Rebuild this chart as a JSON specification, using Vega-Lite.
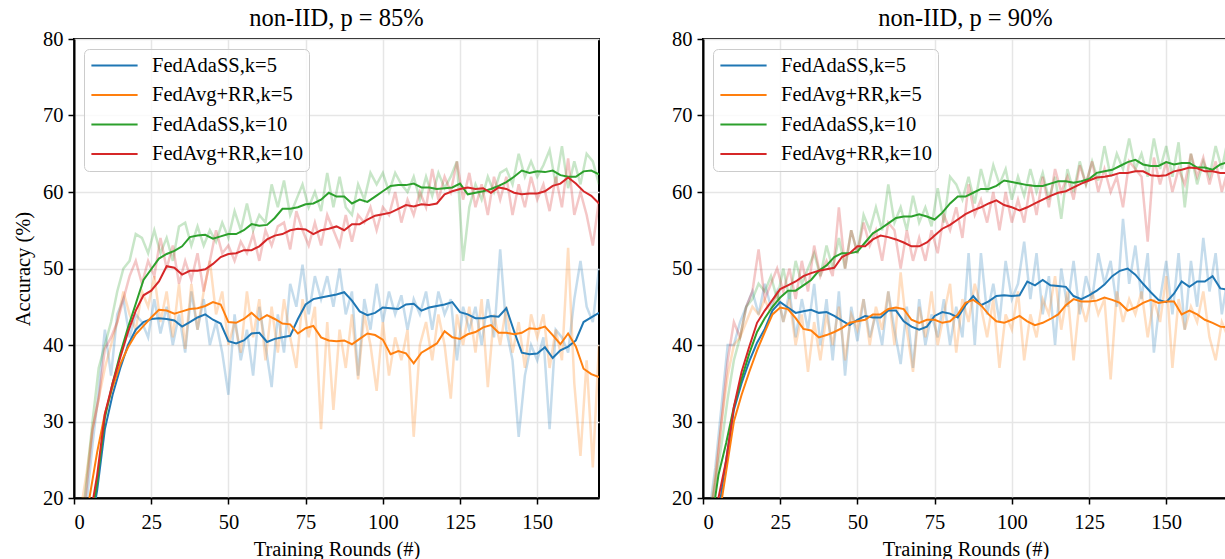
{
"$schema":"https://vega.github.io/schema/vega-lite/v6.json",
"background":"white",
"padding":{"left":12,"top":4,"right":0,"bottom":0},
"datasets":{
"Lraw":[
{"r":0,"a":8,"b":10,"c":9,"d":9},{"r":2,"a":13,"b":18,"c":14,"d":15},{"r":4,"a":19,"b":23,"c":22,"d":21},{"r":6,"a":27,"b":29,"c":30,"d":29},{"r":8,"a":34,"b":33,"c":37,"d":33},{"r":10,"a":42,"b":37,"c":40,"d":39.5},{"r":12,"a":36,"b":40,"c":43,"d":41},{"r":14,"a":44,"b":43,"c":47,"d":43},{"r":16,"a":46,"b":47,"c":50,"d":46},{"r":18,"a":41,"b":44,"c":51,"d":49},{"r":20,"a":44,"b":42,"c":54.5,"d":51},{"r":22,"a":43,"b":47,"c":54,"d":48},{"r":24,"a":41,"b":45,"c":52,"d":51},{"r":26,"a":46,"b":49,"c":55,"d":49},{"r":28,"a":41.5,"b":43,"c":52,"d":54},{"r":30,"a":45,"b":47,"c":54,"d":50},{"r":32,"a":40,"b":41,"c":51,"d":53},{"r":34,"a":44,"b":48,"c":55.5,"d":48},{"r":36,"a":39,"b":39.5,"c":56,"d":51},{"r":38,"a":47,"b":48,"c":53,"d":48.5},{"r":40,"a":42,"b":42,"c":55.5,"d":52},{"r":42,"a":46,"b":47,"c":53,"d":47},{"r":44,"a":40,"b":51,"c":55,"d":51},{"r":46,"a":43,"b":44,"c":53.5,"d":55},{"r":48,"a":39,"b":47,"c":56,"d":52},{"r":50,"a":33.5,"b":40,"c":54,"d":53},{"r":52,"a":44,"b":43,"c":57.5,"d":51},{"r":54,"a":38,"b":39,"c":55,"d":53.5},{"r":56,"a":42,"b":47,"c":58.5,"d":52},{"r":58,"a":36,"b":41,"c":55,"d":54.5},{"r":60,"a":45,"b":46,"c":57,"d":51},{"r":62,"a":40,"b":38,"c":56,"d":55},{"r":64,"a":34.5,"b":45,"c":61,"d":53},{"r":66,"a":44,"b":39,"c":58,"d":55.5},{"r":68,"a":39,"b":46,"c":61.5,"d":56},{"r":70,"a":48,"b":41,"c":57,"d":52.5},{"r":72,"a":45,"b":37,"c":59,"d":57.5},{"r":74,"a":50.5,"b":46,"c":61,"d":55},{"r":76,"a":44,"b":41,"c":58,"d":53},{"r":78,"a":49,"b":45,"c":60,"d":56},{"r":80,"a":46,"b":29,"c":57.5,"d":53},{"r":82,"a":49,"b":43,"c":62.5,"d":57},{"r":84,"a":45,"b":31.5,"c":58,"d":55},{"r":86,"a":50,"b":42,"c":62,"d":53},{"r":88,"a":44,"b":37,"c":58,"d":57},{"r":90,"a":47,"b":44,"c":57,"d":53.5},{"r":92,"a":36,"b":35.5,"c":61,"d":57},{"r":94,"a":46,"b":44,"c":59,"d":56},{"r":96,"a":42,"b":40,"c":62.5,"d":58},{"r":98,"a":48,"b":34,"c":61,"d":55},{"r":100,"a":43,"b":43,"c":62.5,"d":58},{"r":102,"a":47,"b":36,"c":60,"d":57},{"r":104,"a":44,"b":41,"c":62.5,"d":60},{"r":106,"a":46.5,"b":38,"c":61,"d":56},{"r":108,"a":42,"b":42,"c":60,"d":59},{"r":110,"a":46,"b":28,"c":62,"d":57},{"r":112,"a":44,"b":40,"c":59,"d":60},{"r":114,"a":47,"b":43,"c":62,"d":58},{"r":116,"a":42,"b":38,"c":59.5,"d":63},{"r":118,"a":47,"b":44,"c":62.5,"d":59},{"r":120,"a":44,"b":40,"c":60.5,"d":62},{"r":122,"a":46,"b":33,"c":62,"d":60},{"r":124,"a":38,"b":44,"c":64,"d":64},{"r":126,"a":45,"b":40,"c":51,"d":59},{"r":128,"a":42,"b":45,"c":58,"d":62.5},{"r":130,"a":45,"b":39,"c":61,"d":58},{"r":132,"a":40,"b":46,"c":59,"d":61},{"r":134,"a":46,"b":34.5,"c":62,"d":57},{"r":136,"a":41,"b":44,"c":60,"d":62},{"r":138,"a":52.5,"b":40,"c":62.5,"d":59},{"r":140,"a":42,"b":45,"c":63,"d":62},{"r":142,"a":38,"b":39,"c":61,"d":57},{"r":144,"a":28,"b":43,"c":65,"d":61},{"r":146,"a":36,"b":37,"c":62,"d":58},{"r":148,"a":40,"b":44,"c":64,"d":62},{"r":150,"a":38,"b":41,"c":62,"d":59},{"r":152,"a":41,"b":44,"c":63.5,"d":61},{"r":154,"a":29,"b":37,"c":65.5,"d":57.5},{"r":156,"a":42,"b":42,"c":61,"d":62},{"r":158,"a":41,"b":38,"c":66,"d":58},{"r":160,"a":39,"b":52.7,"c":60.5,"d":64.4},{"r":162,"a":46,"b":35,"c":64,"d":57},{"r":164,"a":51,"b":25.5,"c":61,"d":60},{"r":166,"a":45,"b":38,"c":65,"d":57},{"r":168,"a":43,"b":24,"c":64,"d":53},{"r":170,"a":50,"b":40,"c":61,"d":59}
],
"Lsm":[
{"r":0,"a":8,"b":10,"c":9,"d":9},{"r":2.5,"a":11,"b":15,"c":12,"d":13},{"r":5,"a":15,"b":20,"c":16,"d":17},{"r":7.5,"a":21,"b":26,"c":22,"d":23},{"r":10,"a":29,"b":31,"c":30.5,"d":31},{"r":12.5,"a":33.5,"b":34.5,"c":35,"d":35},{"r":15,"a":37,"b":37.5,"c":38.9,"d":38.4},{"r":17.5,"a":40,"b":39.7,"c":42.3,"d":41.7},{"r":20,"a":42,"b":41.4,"c":45.4,"d":44.5},{"r":22.5,"a":43,"b":42.5,"c":48.5,"d":46.5},{"r":25,"a":43.4,"b":43.6,"c":49.9,"d":47.1},{"r":27.5,"a":43.5,"b":44.6,"c":51.3,"d":48.3},{"r":30,"a":43.4,"b":44.5,"c":51.9,"d":50.3},{"r":32.5,"a":43.2,"b":44.1,"c":52.3,"d":50.1},{"r":35,"a":42.4,"b":44.4,"c":52.9,"d":49.2},{"r":37.5,"a":43,"b":44.7,"c":54.1,"d":49.7},{"r":40,"a":43.6,"b":44.8,"c":54.3,"d":49.7},{"r":42.5,"a":44,"b":45.1,"c":54.4,"d":49.9},{"r":45,"a":43.3,"b":45.6,"c":53.9,"d":50.6},{"r":47.5,"a":42.8,"b":45.3,"c":54.2,"d":51.5},{"r":50,"a":40.5,"b":43,"c":54.5,"d":51.9},{"r":52.5,"a":40.2,"b":42.9,"c":54.5,"d":52},{"r":55,"a":40.6,"b":43.4,"c":55,"d":52.4},{"r":57.5,"a":41.5,"b":44.2,"c":55.8,"d":52.4},{"r":60,"a":41.6,"b":43.3,"c":55.6,"d":52.9},{"r":62.5,"a":40.4,"b":43.9,"c":55.7,"d":53.8},{"r":65,"a":40.8,"b":43.4,"c":56.6,"d":54.3},{"r":67.5,"a":41,"b":42.8,"c":57.8,"d":54.5},{"r":70,"a":41.2,"b":42.7,"c":57.8,"d":55},{"r":72.5,"a":43.4,"b":41.5,"c":58,"d":55.2},{"r":75,"a":45.3,"b":42.2,"c":58.4,"d":55.1},{"r":77.5,"a":46,"b":42.5,"c":58.5,"d":54.5},{"r":80,"a":46.2,"b":41,"c":59,"d":55},{"r":82.5,"a":46.4,"b":40.6,"c":59.9,"d":55.2},{"r":85,"a":46.6,"b":40.5,"c":59.4,"d":55.5},{"r":87.5,"a":46.9,"b":40.6,"c":59.4,"d":55},{"r":90,"a":45.8,"b":40.1,"c":58.5,"d":55.8},{"r":92.5,"a":44.4,"b":40.8,"c":59,"d":55.8},{"r":95,"a":43.9,"b":41.5,"c":58.7,"d":56.4},{"r":97.5,"a":44.2,"b":41.3,"c":59.4,"d":56.9},{"r":100,"a":44.9,"b":40.7,"c":60.1,"d":57.1},{"r":102.5,"a":44.8,"b":38.8,"c":60.8,"d":57.3},{"r":105,"a":44.7,"b":39.2,"c":60.9,"d":57.8},{"r":107.5,"a":45.3,"b":38.9,"c":60.9,"d":58.3},{"r":110,"a":45.4,"b":37.6,"c":61.1,"d":58.1},{"r":112.5,"a":44.5,"b":39,"c":60.6,"d":58.4},{"r":115,"a":44.9,"b":39.6,"c":60.6,"d":58.3},{"r":117.5,"a":45.1,"b":40.2,"c":60.4,"d":58.5},{"r":120,"a":45.3,"b":41.8,"c":60.5,"d":59.7},{"r":122.5,"a":45.6,"b":41,"c":60.6,"d":60.1},{"r":125,"a":44.3,"b":40.8,"c":61.1,"d":60.4},{"r":127.5,"a":44,"b":41.4,"c":59.7,"d":60.6},{"r":130,"a":43.5,"b":41.7,"c":59.9,"d":60.4},{"r":132.5,"a":43.5,"b":42.3,"c":60.1,"d":60.5},{"r":135,"a":43.8,"b":42.6,"c":60.4,"d":59.9},{"r":137.5,"a":43.7,"b":41.6,"c":60.8,"d":60.6},{"r":140,"a":44.8,"b":41.6,"c":61.3,"d":60.4},{"r":142.5,"a":41.8,"b":41.4,"c":62,"d":59.9},{"r":145,"a":39,"b":41.6,"c":62.8,"d":59.7},{"r":147.5,"a":38.8,"b":42.2,"c":62.5,"d":59.8},{"r":150,"a":38.9,"b":42.1,"c":62.7,"d":59.8},{"r":152.5,"a":39.7,"b":42.4,"c":62.6,"d":60.1},{"r":155,"a":38.3,"b":41.3,"c":62.8,"d":60.8},{"r":157.5,"a":39.3,"b":40.1,"c":62.2,"d":61.1},{"r":160,"a":39.8,"b":41.5,"c":62,"d":61.9},{"r":162.5,"a":40.6,"b":39.8,"c":62,"d":61.1},{"r":165,"a":43,"b":36.9,"c":62.7,"d":60.1},{"r":167.5,"a":43.6,"b":36.2,"c":62.8,"d":59.5},{"r":170,"a":44.2,"b":35.8,"c":62.3,"d":58.5}
],
"Rraw":[
{"r":0,"a":12,"b":11,"c":12,"d":11},{"r":2,"a":18,"b":17,"c":17,"d":16},{"r":4,"a":24,"b":23,"c":22,"d":22},{"r":6,"a":32,"b":30,"c":27,"d":30},{"r":8,"a":40,"b":36,"c":33,"d":38},{"r":10,"a":40,"b":40,"c":38,"d":43},{"r":12,"a":43,"b":41,"c":41,"d":41},{"r":14,"a":45,"b":43,"c":45,"d":45},{"r":16,"a":47,"b":45,"c":46,"d":47},{"r":18,"a":44,"b":44,"c":48,"d":52.5},{"r":20,"a":48,"b":46,"c":47,"d":46},{"r":22,"a":45,"b":44,"c":49,"d":48},{"r":24,"a":47,"b":47,"c":46,"d":50},{"r":26,"a":43,"b":43,"c":50,"d":47},{"r":28,"a":47,"b":46,"c":46,"d":50},{"r":30,"a":41,"b":40,"c":51,"d":46},{"r":32,"a":46,"b":44,"c":48,"d":51},{"r":34,"a":42,"b":36.5,"c":50,"d":47},{"r":36,"a":48,"b":43,"c":52,"d":53},{"r":38,"a":40,"b":38,"c":49,"d":49},{"r":40,"a":46,"b":44,"c":53,"d":51},{"r":42,"a":38,"b":40,"c":50,"d":49},{"r":44,"a":47,"b":45,"c":54,"d":58},{"r":46,"a":36,"b":38,"c":50,"d":50},{"r":48,"a":45,"b":44,"c":55,"d":55},{"r":50,"a":40.5,"b":42,"c":52,"d":52},{"r":52,"a":46,"b":46,"c":57,"d":56},{"r":54,"a":41,"b":40,"c":55,"d":53},{"r":56,"a":44,"b":45,"c":58,"d":55},{"r":58,"a":40,"b":42,"c":55,"d":51},{"r":60,"a":47,"b":47,"c":61,"d":56},{"r":62,"a":42,"b":40,"c":56,"d":55},{"r":64,"a":37.5,"b":49.5,"c":58,"d":50},{"r":66,"a":45,"b":42,"c":55,"d":55},{"r":68,"a":37,"b":36.5,"c":59.5,"d":51},{"r":70,"a":46,"b":45,"c":56,"d":54},{"r":72,"a":40,"b":41,"c":58,"d":51},{"r":74,"a":44,"b":47,"c":55.5,"d":55},{"r":76,"a":41,"b":40,"c":60.5,"d":52},{"r":78,"a":46,"b":44,"c":56,"d":57},{"r":80,"a":40,"b":48,"c":62,"d":55},{"r":82,"a":45,"b":39,"c":61,"d":58},{"r":84,"a":41,"b":46,"c":59,"d":54},{"r":86,"a":52,"b":43,"c":62,"d":61},{"r":88,"a":40,"b":48,"c":58.5,"d":57},{"r":90,"a":52,"b":45,"c":63,"d":59},{"r":92,"a":44,"b":41,"c":60,"d":56},{"r":94,"a":48,"b":46,"c":63.5,"d":60},{"r":96,"a":43,"b":37,"c":61,"d":55},{"r":98,"a":51,"b":44,"c":63,"d":60},{"r":100,"a":46,"b":42,"c":59,"d":56},{"r":102,"a":48,"b":47,"c":62,"d":59},{"r":104,"a":53.5,"b":38,"c":59.5,"d":56},{"r":106,"a":46,"b":44,"c":63,"d":61},{"r":108,"a":52,"b":41,"c":60,"d":57},{"r":110,"a":44,"b":46,"c":62.5,"d":62},{"r":112,"a":49,"b":44,"c":59,"d":58},{"r":114,"a":40,"b":49,"c":62,"d":63},{"r":116,"a":50,"b":42,"c":56.5,"d":60},{"r":118,"a":45,"b":47,"c":63,"d":62},{"r":120,"a":51,"b":38,"c":60,"d":59},{"r":122,"a":44,"b":46,"c":64,"d":63.5},{"r":124,"a":49,"b":43,"c":61,"d":61},{"r":126,"a":46,"b":47,"c":64,"d":64},{"r":128,"a":52,"b":44,"c":61.5,"d":60},{"r":130,"a":48,"b":46,"c":66,"d":63},{"r":132,"a":51,"b":35.5,"c":62,"d":60},{"r":134,"a":45,"b":47,"c":65,"d":62},{"r":136,"a":56.5,"b":43,"c":63,"d":58},{"r":138,"a":48,"b":46,"c":67,"d":64},{"r":140,"a":53,"b":44,"c":63,"d":63},{"r":142,"a":46,"b":47,"c":65,"d":62},{"r":144,"a":52,"b":41,"c":62,"d":53.5},{"r":146,"a":39,"b":46,"c":67,"d":64.5},{"r":148,"a":46,"b":43,"c":63,"d":61},{"r":150,"a":51,"b":49,"c":66,"d":64},{"r":152,"a":44,"b":37,"c":62,"d":60},{"r":154,"a":52,"b":46,"c":66.5,"d":63},{"r":156,"a":42,"b":42,"c":58,"d":61},{"r":158,"a":51,"b":45,"c":65,"d":65},{"r":160,"a":45,"b":43,"c":61,"d":62},{"r":162,"a":54,"b":47,"c":64,"d":64.5},{"r":164,"a":47,"b":41,"c":62,"d":61},{"r":166,"a":52,"b":38,"c":66,"d":64},{"r":168,"a":44,"b":43,"c":63,"d":60},{"r":170,"a":49,"b":41,"c":67,"d":63}
],
"Rsm":[
{"r":0,"a":9,"b":9,"c":12,"d":10},{"r":2.5,"a":13,"b":12,"c":16,"d":14},{"r":5,"a":18,"b":17,"c":23,"d":20},{"r":7.5,"a":25,"b":23.5,"c":27.2,"d":24.9},{"r":10,"a":31.5,"b":30,"c":31.9,"d":31.9},{"r":12.5,"a":35,"b":33.5,"c":35.6,"d":36.5},{"r":15,"a":37.9,"b":36.5,"c":38.9,"d":39.8},{"r":17.5,"a":40.3,"b":39.3,"c":41.7,"d":42.9},{"r":20,"a":42.1,"b":41.7,"c":43.5,"d":44.5},{"r":22.5,"a":44.5,"b":44,"c":45,"d":45.9},{"r":25,"a":45.6,"b":44.9,"c":46.2,"d":47.3},{"r":27.5,"a":44.9,"b":44.7,"c":47.1,"d":47.8},{"r":30,"a":44.2,"b":43.5,"c":47.1,"d":48.3},{"r":32.5,"a":44.4,"b":42.1,"c":47.8,"d":49},{"r":35,"a":44.6,"b":41.9,"c":48.5,"d":49.4},{"r":37.5,"a":44.2,"b":41,"c":49.7,"d":49.7},{"r":40,"a":44.3,"b":41.3,"c":50.4,"d":49.9},{"r":42.5,"a":43.8,"b":41.7,"c":51.5,"d":50.1},{"r":45,"a":43.2,"b":42.2,"c":52,"d":51.5},{"r":47.5,"a":42.6,"b":42.9,"c":52,"d":52},{"r":50,"a":43.3,"b":43.1,"c":52.2,"d":52.9},{"r":52.5,"a":43.8,"b":43.3,"c":53.4,"d":52.9},{"r":55,"a":43.6,"b":44,"c":54.6,"d":53.8},{"r":57.5,"a":43.6,"b":44,"c":55.2,"d":54.3},{"r":60,"a":44.5,"b":44.7,"c":55.9,"d":54.1},{"r":62.5,"a":44.5,"b":44.9,"c":56.6,"d":53.8},{"r":65,"a":43.1,"b":44.7,"c":56.8,"d":53.4},{"r":67.5,"a":42.4,"b":43.3,"c":56.8,"d":52.9},{"r":70,"a":42,"b":42.9,"c":57.1,"d":52.9},{"r":72.5,"a":42.4,"b":43.3,"c":56.8,"d":53.4},{"r":75,"a":43.8,"b":43.3,"c":56.4,"d":54.3},{"r":77.5,"a":44.3,"b":42.9,"c":57.3,"d":55.2},{"r":80,"a":44.1,"b":43.1,"c":58.5,"d":55.7},{"r":82.5,"a":43.6,"b":44,"c":59.4,"d":56.4},{"r":85,"a":45.2,"b":45.5,"c":59.4,"d":57.1},{"r":87.5,"a":46.4,"b":45.9,"c":59.9,"d":57.6},{"r":90,"a":45.2,"b":45.2,"c":60.4,"d":58},{"r":92.5,"a":45.7,"b":44,"c":60.4,"d":58.5},{"r":95,"a":46.4,"b":43.1,"c":60.8,"d":58.9},{"r":97.5,"a":46.5,"b":42.9,"c":61.5,"d":58.3},{"r":100,"a":46.4,"b":43.3,"c":61.3,"d":58},{"r":102.5,"a":46.5,"b":43.8,"c":61.1,"d":57.6},{"r":105,"a":48.3,"b":43.1,"c":60.9,"d":58},{"r":107.5,"a":47.8,"b":42.6,"c":60.8,"d":58.5},{"r":110,"a":48.5,"b":42.9,"c":60.8,"d":59},{"r":112.5,"a":47.8,"b":43.4,"c":61.1,"d":59.5},{"r":115,"a":47.7,"b":44,"c":61.4,"d":59.9},{"r":117.5,"a":47.6,"b":45.2,"c":61.4,"d":60.1},{"r":120,"a":46.4,"b":46,"c":61.2,"d":60.6},{"r":122.5,"a":46,"b":45.7,"c":61.4,"d":61.1},{"r":125,"a":46.5,"b":45.7,"c":61.7,"d":61.5},{"r":127.5,"a":47.1,"b":45.8,"c":62.5,"d":61.9},{"r":130,"a":47.9,"b":46.2,"c":62.7,"d":62},{"r":132.5,"a":49,"b":45.9,"c":62.9,"d":62.2},{"r":135,"a":49.7,"b":45.5,"c":63.4,"d":62.5},{"r":137.5,"a":50,"b":44.5,"c":63.9,"d":62.5},{"r":140,"a":49.2,"b":44.9,"c":64.2,"d":62.7},{"r":142.5,"a":48,"b":45.5,"c":63.6,"d":62.7},{"r":145,"a":46.9,"b":45.9,"c":63.4,"d":62.2},{"r":147.5,"a":45.9,"b":45.5,"c":63.4,"d":62.1},{"r":150,"a":45.6,"b":45.7,"c":63.9,"d":62.2},{"r":152.5,"a":46.7,"b":45.7,"c":63.6,"d":62.7},{"r":155,"a":48.3,"b":44,"c":63.8,"d":62.9},{"r":157.5,"a":47.6,"b":44.5,"c":63.8,"d":63.2},{"r":160,"a":48.3,"b":44,"c":63.2,"d":63.1},{"r":162.5,"a":48.3,"b":43.3,"c":63.2,"d":62.7},{"r":165,"a":49,"b":42.9,"c":62.9,"d":62.7},{"r":167.5,"a":47.4,"b":42.4,"c":63.6,"d":62.5},{"r":170,"a":47.2,"b":42.3,"c":63.9,"d":62.5}
]
},
"hconcat":[
{"width":525,"height":459,"title":{"text":"non-IID, p = 85%"},
"layer":[
{"data":{"name":"Lraw"},"transform":[{"fold":["a","b","c","d"],"as":["s","v"]}],
"mark":{"type":"line","clip":true,"strokeWidth":2.5,"opacity":0.26},
"encoding":{"x":{"field":"r","type":"quantitative","scale":{"domain":[0,170],"nice":false,"zero":false},"axis":{"values":[0,25,50,75,100,125,150],"title":"Training Rounds (#)"}},
"y":{"field":"v","type":"quantitative","scale":{"domain":[20,80],"nice":false,"zero":false},"axis":{"values":[20,30,40,50,60,70,80],"title":"Accuracy (%)"}},
"color":{"field":"s","type":"nominal","scale":{"domain":["a","b","c","d"],"range":["#1f77b4","#ff7f0e","#2ca02c","#d62728"]},"legend":{"title":null,"orient":"top-left","offset":10,"labelExpr":"datum.label == 'a' ? 'FedAdaSS,k=5' : datum.label == 'b' ? 'FedAvg+RR,k=5' : datum.label == 'c' ? 'FedAdaSS,k=10' : 'FedAvg+RR,k=10'"}}}},
{"data":{"name":"Lsm"},"transform":[{"fold":["a","b","c","d"],"as":["s","v"]}],
"mark":{"type":"line","clip":true,"strokeWidth":2},
"encoding":{"x":{"field":"r","type":"quantitative"},"y":{"field":"v","type":"quantitative"},"color":{"field":"s","type":"nominal"}}}
]},
{"width":525,"height":459,"title":{"text":"non-IID, p = 90%"},
"layer":[
{"data":{"name":"Rraw"},"transform":[{"fold":["a","b","c","d"],"as":["s","v"]}],
"mark":{"type":"line","clip":true,"strokeWidth":2.5,"opacity":0.26},
"encoding":{"x":{"field":"r","type":"quantitative","scale":{"domain":[0,170],"nice":false,"zero":false},"axis":{"values":[0,25,50,75,100,125,150],"title":"Training Rounds (#)"}},
"y":{"field":"v","type":"quantitative","scale":{"domain":[20,80],"nice":false,"zero":false},"axis":{"values":[20,30,40,50,60,70,80],"title":null}},
"color":{"field":"s","type":"nominal","scale":{"domain":["a","b","c","d"],"range":["#1f77b4","#ff7f0e","#2ca02c","#d62728"]},"legend":{"title":null,"orient":"top-left","offset":10,"labelExpr":"datum.label == 'a' ? 'FedAdaSS,k=5' : datum.label == 'b' ? 'FedAvg+RR,k=5' : datum.label == 'c' ? 'FedAdaSS,k=10' : 'FedAvg+RR,k=10'"}}}},
{"data":{"name":"Rsm"},"transform":[{"fold":["a","b","c","d"],"as":["s","v"]}],
"mark":{"type":"line","clip":true,"strokeWidth":2},
"encoding":{"x":{"field":"r","type":"quantitative"},"y":{"field":"v","type":"quantitative"},"color":{"field":"s","type":"nominal"}}}
]}
],
"spacing":70,
"resolve":{"scale":{"color":"independent"},"legend":{"color":"independent"}},
"config":{
"view":{"stroke":"black","strokeWidth":2},
"title":{"font":"Liberation Serif","fontSize":24.5,"fontWeight":"normal","color":"black","offset":-2},
"axis":{"labelFont":"Liberation Serif","labelFontSize":20.5,"titleFont":"Liberation Serif","titleFontSize":20.5,"titleFontWeight":"normal","labelColor":"black","titleColor":"black","tickColor":"black","tickSize":6,"tickWidth":1.5,"domainColor":"black","domainWidth":2,"gridColor":"#e6e6e6","gridWidth":1.5},
"axisX":{"labelPadding":8,"titlePadding":7},
"axisY":{"labelPadding":5,"titlePadding":9},
"legend":{"labelFont":"Liberation Serif","labelFontSize":20.5,"labelColor":"black","symbolType":"stroke","symbolSize":2135,"symbolStrokeWidth":2,"symbolOpacity":1,"labelOffset":13,"rowPadding":8.5,"clipHeight":21,"padding":6,"fillColor":"rgba(255,255,255,0.8)","strokeColor":"#cccccc","cornerRadius":5,"labelLimit":400}
}
}
